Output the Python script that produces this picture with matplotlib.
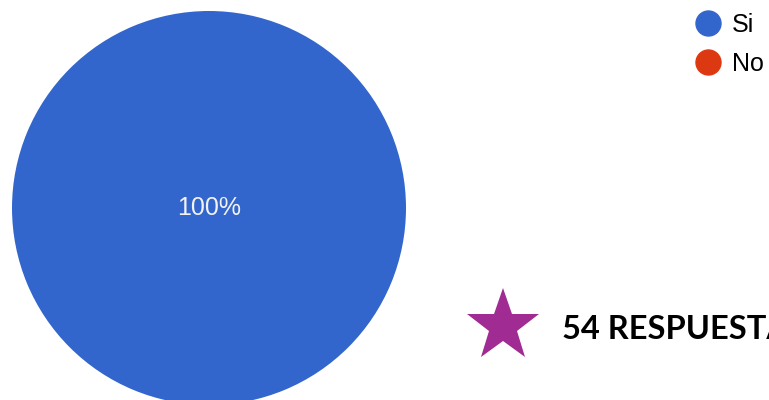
import matplotlib.pyplot as plt
from matplotlib.lines import Line2D

categories = ['Si', 'No']
values = [54, 0]
colors = ['#3366CC', '#DC3912']
total = sum(values)

fig = plt.figure(figsize=(7.69, 4.0), dpi=100)

# Pie placed on the left, slightly cut at the bottom
ax = fig.add_axes([12 / 769, -5 / 400, 394 / 769, 394 / 400])
wedges, _ = ax.pie(values, colors=colors, startangle=90, counterclock=False,
                   wedgeprops=dict(linewidth=0))
ax.set_xlim(-1, 1)
ax.set_ylim(-1, 1)
ax.set_aspect('equal')

# Percentage label for the visible slice
for v in values:
    if v > 0:
        ax.text(0, 0, f"{v / total * 100:.0f}%", ha='center', va='center',
                color='#f2f2f2', fontsize=18, family='Liberation Sans')

# Legend with round markers
handles = [Line2D([], [], marker='o', linestyle='none', markersize=18,
                  markerfacecolor=c, markeredgecolor=c) for c in colors]
fig.legend(handles, categories, loc='upper left', bbox_to_anchor=(682 / 769, 1.0),
           frameon=False, prop=dict(family='Liberation Sans', size=18),
           handletextpad=0.4, labelspacing=0.62, borderaxespad=0.1,
           handlelength=1.1)

# Star and response count
fig.add_artist(Line2D([503 / 769], [(400 - 326) / 400], marker='*', markersize=55,
                      color='#A02B93', linestyle='none', markeredgewidth=0,
                      transform=fig.transFigure))
fig.text(562 / 769, (400 - 339) / 400, f"{total} RESPUESTAS", ha='left', va='baseline',
         fontsize=23.5, fontweight='bold', family='Lato', color='black')

fig.savefig('out.png', dpi=100)
